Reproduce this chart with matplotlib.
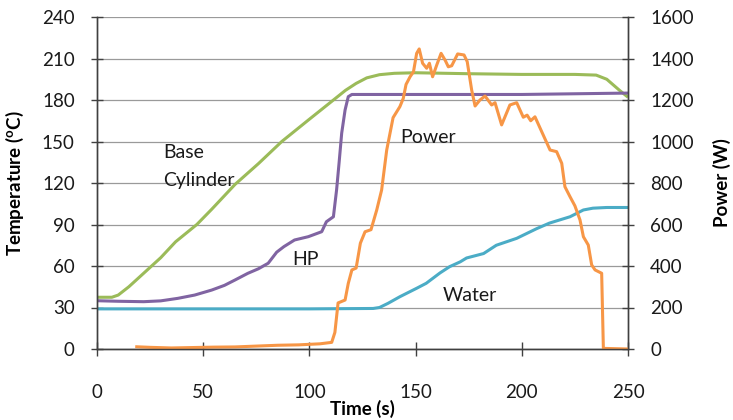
import matplotlib
matplotlib.use("Agg")
import matplotlib.pyplot as plt

plt.rcParams['font.family'] = ['Lato', 'DejaVu Sans']
plt.rcParams['mathtext.fontset'] = 'custom'
plt.rcParams['mathtext.rm'] = 'Lato'
plt.rcParams['mathtext.bf'] = 'Lato:bold'

# ---- data ----
time_base = [0, 7, 10, 15, 20, 25, 30, 37, 47, 54, 65, 76, 87, 99.5, 110.5, 117, 122, 127, 133,
             140, 150, 175, 200, 225, 235, 240, 243, 246, 250]
temp_base = [37.4, 37.4, 39, 45, 52, 59, 66, 77.5, 90, 101, 119, 134, 150, 165.5, 179, 187, 192,
             196, 198.3, 199.3, 199.7, 199, 198.5, 198.5, 198, 195, 191, 187, 182]

time_hp = [0, 10, 22, 30, 38, 46, 54, 60, 65, 71, 76, 80.6, 84.6, 88, 93, 99.5, 105.8, 108, 111.3,
           112.8, 114, 115.2, 116.8, 118.3, 120, 150, 200, 250]
temp_hp = [34.9, 34.5, 34.2, 34.8, 36.6, 39, 42.6, 46, 49.9, 54.7, 58, 62, 70, 74, 78.8, 81.2, 84.8,
           92, 95.6, 115, 135, 156, 172.8, 182.4, 184, 184, 184, 185]

time_water = [0, 50, 100, 130, 133, 137, 142.6, 150.5, 155, 161.5, 166, 171, 174, 182, 188, 197.6,
              207, 213, 222.7, 229, 233.5, 240, 250]
temp_water = [29, 29, 29, 29.3, 30, 33, 37.8, 43.9, 47.5, 55, 59.5, 63, 65.8, 69, 75, 80, 87, 91,
              95.6, 100.5, 101.8, 102.3, 102.3]

time_power = [18, 25, 35, 45, 55, 65, 75, 85, 95, 105, 110.5, 112, 113.5, 116.8, 118.3, 120, 122,
              124, 126.2, 129, 131.7, 134, 136.4, 139.4, 142.6, 144.2, 145.5, 147.4, 149, 150.5,
              151.7, 153.3, 155.2, 156.5, 158, 160, 162, 164, 165.4, 167, 169.8, 172.8, 174.3,
              176.4, 178, 180.3, 182.7, 185.8, 187.4, 190.5, 194.4, 197.6, 200.7, 202.5, 204.2,
              206.2, 210.1, 213.3, 216.4, 218.8, 220.3, 222.7, 225, 227.4, 229, 231.3, 232.9,
              234.5, 237.6, 238.4, 250]
power = [11, 8, 5, 7, 9, 10, 14, 18, 20, 25, 32, 80, 222, 236, 316, 381, 390, 510, 565, 575, 670,
         766, 959, 1115, 1168, 1208, 1275, 1312, 1336, 1425, 1446, 1377, 1353, 1377, 1312, 1370,
         1425, 1390, 1360, 1365, 1422, 1417, 1385, 1248, 1171, 1200, 1219, 1176, 1187, 1080, 1176,
         1187, 1117, 1127, 1100, 1119, 1031, 959, 951, 895, 782, 734, 690, 622, 541, 501, 405,
         381, 365, 3, 0]

temp_ticks = [0, 30, 60, 90, 120, 150, 180, 210, 240]
power_ticks = [0, 200, 400, 600, 800, 1000, 1200, 1400, 1600]
time_ticks = [0, 50, 100, 150, 200, 250]

c_green = '#9BBB59'
c_purple = '#8064A2'
c_blue = '#4BACC6'
c_orange = '#F79646'

fig = plt.figure(figsize=(7.33, 4.2), dpi=100)
ax = fig.add_axes([97/733, 1-349/420, 531/733, 332/420])
ax2 = ax.twinx()

lw = 2.2
ax.plot(time_base, temp_base, color=c_green, lw=lw, solid_capstyle='butt')
ax.plot(time_hp, temp_hp, color=c_purple, lw=lw, solid_capstyle='butt')
ax.plot(time_water, temp_water, color=c_blue, lw=lw, solid_capstyle='butt')
ax2.plot(time_power, power, color=c_orange, lw=lw, solid_capstyle='butt')

ax.set_xlim(0, 250)
ax.set_ylim(0, 240)
ax2.set_ylim(0, 1600)
ax.set_xticks(time_ticks)
ax.set_yticks(temp_ticks)
ax2.set_yticks(power_ticks)

ax.yaxis.grid(True, color='#9a9a9a', lw=0.9)
ax.set_axisbelow(True)

for a in (ax, ax2):
    a.spines['top'].set_visible(False)
    for s in ('left', 'right', 'bottom'):
        a.spines[s].set_color('#404040')
        a.spines[s].set_linewidth(1.0)

ax.tick_params(axis='y', direction='inout', length=8, width=1, color='#404040',
               labelsize=13.5, pad=12, labelcolor='#1a1a1a')
ax2.tick_params(axis='y', direction='inout', length=8, width=1, color='#404040',
                labelsize=13.5, pad=12, labelcolor='#1a1a1a')
ax.tick_params(axis='x', direction='inout', length=10, width=1, color='#404040',
               labelsize=13.5, pad=20, labelcolor='#1a1a1a')

ax.set_ylabel(r'Temperature ($\mathbf{^{o}}$C)', fontsize=13.5, fontweight='bold')
ax.yaxis.set_label_coords((26-97)/531, 0.5)
ax2.set_ylabel('Power (W)', fontsize=13.5, fontweight='bold', rotation=90)
ax2.yaxis.set_label_coords((713-97)/531, 0.5)
ax.set_xlabel('Time (s)', fontsize=13.5, fontweight='bold', va='center')
ax.xaxis.set_label_coords(0.5, (349-409)/332)

txt_kw = dict(fontsize=14, color='#1a1a1a', ha='left', va='center')
ax.text(31.2, 142, 'Base', **txt_kw)
ax.text(31.2, 122, 'Cylinder', **txt_kw)
ax.text(91.7, 65, 'HP', **txt_kw)
ax.text(142.6, 153, 'Power', **txt_kw)
ax.text(162.8, 39, 'Water', **txt_kw)

fig.savefig('out.png', dpi=100)
